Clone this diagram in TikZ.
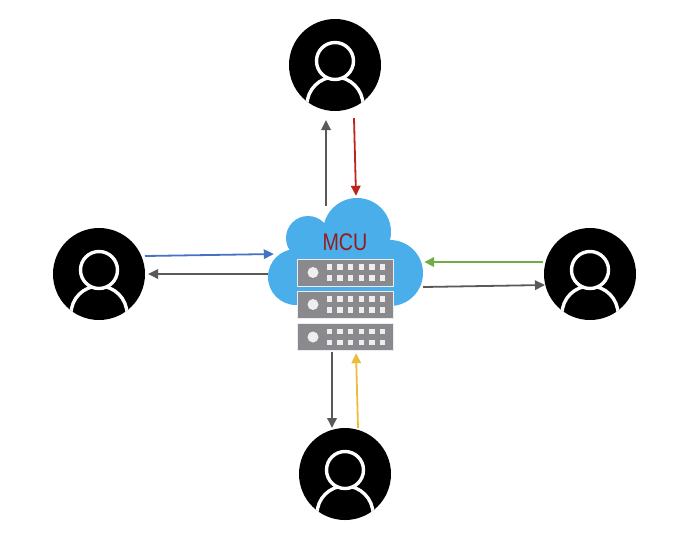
\documentclass[tikz,border=0pt]{standalone}
\usepackage{fontspec}
\setmainfont{Liberation Sans}
\usetikzlibrary{arrows.meta,calc,positioning}
\definecolor{cloudblue}{RGB}{74,174,235}
\definecolor{rackgray}{RGB}{138,138,142}
\definecolor{slotwhite}{RGB}{238,238,238}
\definecolor{arrowgray}{RGB}{89,89,89}
\definecolor{arrowred}{RGB}{190,35,28}
\definecolor{arrowblue}{RGB}{68,114,196}
\definecolor{arrowgreen}{RGB}{112,173,71}
\definecolor{arrowyellow}{RGB}{236,189,60}
\definecolor{labelred}{RGB}{150,28,28}

\begin{document}
\begin{tikzpicture}[x=1pt, y=-1pt,
    person/.style={circle, fill=black, minimum size=92pt, inner sep=0pt, outer sep=0pt},
    lobe/.style={fill=cloudblue, draw=none},
    rack/.style={rectangle, fill=rackgray, draw=white!85!rackgray, line width=0.6pt, minimum width=96pt, minimum height=27pt, inner sep=0pt},
    lamp/.style={circle, fill=slotwhite, minimum size=11pt, inner sep=0pt},
    slot/.style={rectangle, fill=slotwhite, minimum size=5.6pt, inner sep=0pt},
    flow/.style={-{Triangle[length=10pt,width=9.5pt]}, line width=1.8pt},
    hub/.style={rectangle, minimum width=155pt, minimum height=155pt, inner sep=0pt}
]
\useasboundingbox (0,0) rectangle (700,547);

% Users
\foreach \name/\px/\py in {top/335/65, left/99/274, right/590/274, bottom/345/474} {
    \node[person] (\name) at (\px,\py) {};
    \begin{scope}[shift={(\px,\py)}]
        \clip (0,0) circle (46);
        \draw[white, line width=3.4pt] (0,40) circle (28);
        \draw[white, line width=3.4pt, fill=black] (0,-4) circle (18.5);
    \end{scope}
}

% Cloud
\node[hub] (mcu) at (345.5,274.5) {};
\fill[lobe] (357,232) circle (34);
\fill[lobe] (308,238) circle (22);
\fill[lobe] (296,277) circle (28);
\fill[lobe] (390,273) circle (33);
\fill[lobe] (300,225) rectangle (385,305);

% Server
\foreach \i/\ry in {1/272.5, 2/304.5, 3/337} {
    \node[rack] (rack\i) at (345,\ry) {};
    \node[lamp] (lamp\i) at (313,\ry) {};
    \foreach \j in {0,...,5} {
        \node[slot] (slot\i a\j) at (329.3+10.67*\j,\ry-5.5) {};
        \node[slot] (slot\i b\j) at (329.3+10.67*\j,\ry+5.5) {};
    }
}
\node[font=\fontsize{24}{24}\selectfont, text=labelred, xscale=0.82, inner sep=0pt] (mcutext) at (345,242) {MCU};

% Arrows
\draw[flow, arrowgray] ($(mcu.north)+(-19.5,9)$) -- ($(top.south)+(-9,9)$);
\draw[flow, arrowred] ($(top.south)+(19,7)$) -- ($(mcu.north)+(10.5,-1)$);
\draw[flow, arrowblue] ($(left.east)+(0,-18)$) -- ($(mcu.west)+(6,-20.5)$);
\draw[flow, arrowgray] ($(mcu.west)+(0,-0.5)$) -- ($(left.east)+(3,0)$);
\draw[flow, arrowgreen] ($(right.west)+(-1,-12)$) -- ($(mcu.east)+(1,-12.5)$);
\draw[flow, arrowgray] ($(mcu.east)+(0,12.5)$) -- ($(right.west)+(1,11)$);
\draw[flow, arrowgray] ($(mcu.south)+(-13.5,0)$) -- ($(bottom.north)+(-13,0)$);
\draw[flow, arrowyellow] ($(bottom.north)+(13,0)$) -- ($(mcu.south)+(10.5,1)$);

\end{tikzpicture}
\end{document}
